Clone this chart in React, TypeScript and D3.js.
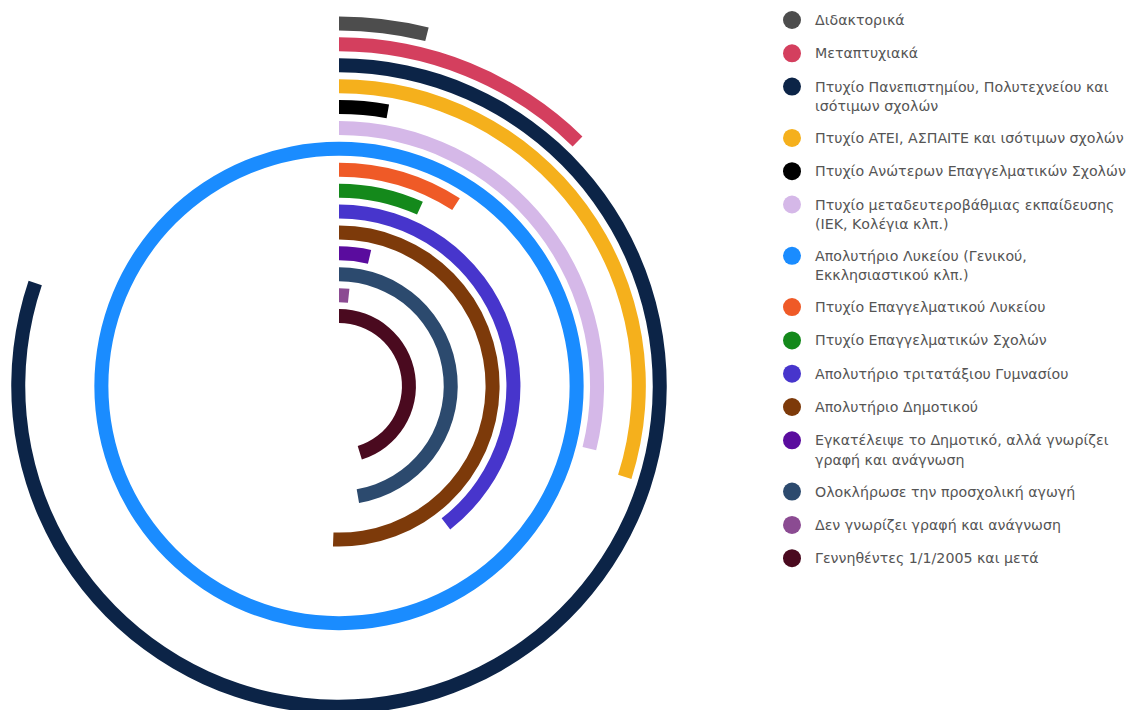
import React from "react";
import * as d3 from "d3";

const categories: string[] = [
  "Διδακτορικά",
  "Μεταπτυχιακά",
  "Πτυχίο Πανεπιστημίου, Πολυτεχνείου και ισότιμων σχολών",
  "Πτυχίο ATEI, ΑΣΠΑΙΤΕ και ισότιμων σχολών",
  "Πτυχίο Ανώτερων Επαγγελματικών Σχολών",
  "Πτυχίο μεταδευτεροβάθμιας εκπαίδευσης (ΙΕΚ, Κολέγια κλπ.)",
  "Απολυτήριο Λυκείου (Γενικού, Εκκλησιαστικού κλπ.)",
  "Πτυχίο Επαγγελματικού Λυκείου",
  "Πτυχίο Επαγγελματικών Σχολών",
  "Απολυτήριο τριτατάξιου Γυμνασίου",
  "Απολυτήριο Δημοτικού",
  "Εγκατέλειψε το Δημοτικό, αλλά γνωρίζει γραφή και ανάγνωση",
  "Ολοκλήρωσε την προσχολική αγωγή",
  "Δεν γνωρίζει γραφή και ανάγνωση",
  "Γεννηθέντες 1/1/2005 και μετά",
];

// legend text split into lines
const legendLines: string[][] = [
  ["Διδακτορικά"],
  ["Μεταπτυχιακά"],
  ["Πτυχίο Πανεπιστημίου, Πολυτεχνείου και", "ισότιμων σχολών"],
  ["Πτυχίο ATEI, ΑΣΠΑΙΤΕ και ισότιμων σχολών"],
  ["Πτυχίο Ανώτερων Επαγγελματικών Σχολών"],
  ["Πτυχίο μεταδευτεροβάθμιας εκπαίδευσης", "(ΙΕΚ, Κολέγια κλπ.)"],
  ["Απολυτήριο Λυκείου (Γενικού,", "Εκκλησιαστικού κλπ.)"],
  ["Πτυχίο Επαγγελματικού Λυκείου"],
  ["Πτυχίο Επαγγελματικών Σχολών"],
  ["Απολυτήριο τριτατάξιου Γυμνασίου"],
  ["Απολυτήριο Δημοτικού"],
  ["Εγκατέλειψε το Δημοτικό, αλλά γνωρίζει", "γραφή και ανάγνωση"],
  ["Ολοκλήρωσε την προσχολική αγωγή"],
  ["Δεν γνωρίζει γραφή και ανάγνωση"],
  ["Γεννηθέντες 1/1/2005 και μετά"],
];

// estimated values (relative, Απολυτήριο Λυκείου = 100)
const values: number[] = [
  3.9, 12.3, 80.2, 29.9, 2.8, 28.9, 100, 9.1, 6.8, 39.5, 50.6, 3.7, 47.3, 1.7, 45.2,
];

const colors: string[] = [
  "#4d4d4d",
  "#d43f5e",
  "#0c2447",
  "#f5b01c",
  "#000000",
  "#d5b8e8",
  "#1a8cff",
  "#ef5a27",
  "#14891b",
  "#4735cc",
  "#7d3a0a",
  "#5a0c9e",
  "#2c4a6e",
  "#8b4b92",
  "#4a0a1f",
];

export default function App() {
  const W = 1131;
  const H = 710;
  const cx = 339;
  const cy = 386;

  const angle = d3
    .scaleLinear()
    .domain([0, d3.max(values) as number])
    .range([0, 2 * Math.PI]);

  const radius = d3
    .scaleBand<string>()
    .domain([...categories].reverse())
    .range([59.5, 373])
    .paddingInner(0.33)
    .paddingOuter(0.165);

  const arc = d3.arc<any>();

  // legend layout
  const legendX = 792;
  const textX = 815;
  const lineH = 19.5;
  const extraH = 18;
  const itemGap = 33.3;
  let y = 20;
  const legendPos: number[] = [];
  legendLines.forEach((lines) => {
    legendPos.push(y);
    y += itemGap + (lines.length - 1) * extraH;
  });

  return (
    <svg
      width={W}
      height={H}
      style={{ position: "absolute", left: 0, top: 0, background: "#fff" }}
    >
      <g transform={`translate(${cx},${cy})`}>
        {categories.map((c, i) => {
          const r0 = radius(c) as number;
          const d = arc({
            innerRadius: r0,
            outerRadius: r0 + radius.bandwidth(),
            startAngle: 0,
            endAngle: angle(values[i]),
          });
          return <path key={c} d={d || ""} fill={colors[i]} />;
        })}
      </g>
      <g fontFamily="'DejaVu Sans', Verdana, sans-serif" fontSize={14.2} fill="#555">
        {legendLines.map((lines, i) => (
          <g key={i}>
            <circle cx={legendX} cy={legendPos[i]} r={9} fill={colors[i]} />
            {lines.map((t, j) => (
              <text
                key={j}
                x={textX}
                y={legendPos[i] + j * lineH}
                dominantBaseline="central"
              >
                {t}
              </text>
            ))}
          </g>
        ))}
      </g>
    </svg>
  );
}
